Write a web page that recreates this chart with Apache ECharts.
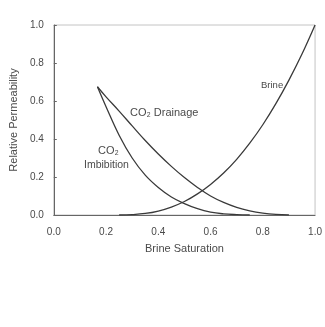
<!DOCTYPE html>
<html><head><meta charset="utf-8">
<script src="https://cdn.jsdelivr.net/npm/echarts@6/dist/echarts.min.js"></script>
<style>html,body{margin:0;padding:0;background:#fff}#c{width:325px;height:327px}</style>
</head><body><div id="c"></div>
<script>
const brineS  = [0.25,0.30,0.35,0.40,0.45,0.50,0.55,0.60,0.65,0.70,0.75,0.80,0.85,0.90,0.95,1.00];
const brineKr = [0.0,0.002,0.008,0.021,0.042,0.071,0.111,0.161,0.221,0.293,0.378,0.475,0.586,0.71,0.847,1.0];
const drainS  = [0.167,0.20,0.25,0.30,0.35,0.40,0.45,0.50,0.55,0.60,0.65,0.70,0.75,0.80,0.85,0.90];
const drainKr = [0.675,0.622,0.547,0.469,0.392,0.321,0.256,0.197,0.145,0.10,0.066,0.04,0.022,0.01,0.003,0.0];
const imbS    = [0.167,0.20,0.25,0.30,0.35,0.40,0.45,0.50,0.55,0.60,0.65,0.70,0.75];
const imbKr   = [0.675,0.57,0.42,0.30,0.21,0.145,0.095,0.06,0.033,0.015,0.006,0.002,0.0];
const ticks = [0.0,0.2,0.4,0.6,0.8,1.0];

const zip = (a,b) => a.map((v,i)=>[v,b[i]]);
const chart = echarts.init(document.getElementById('c'));
const txt = '#4a4a4a';
const font = 'Liberation Sans';
const line = {color:'#3a3a3a', width:1.3};
chart.setOption({
  animation:false,
  grid:{left:53, right:8, top:25, bottom:112, show:true, borderColor:'#c4c4c4', borderWidth:1},
  xAxis:{type:'value', min:0, max:1, interval:0.2,
    name:'Brine Saturation', nameLocation:'middle', nameGap:28,
    nameTextStyle:{color:txt, fontSize:11, fontFamily:font},
    axisLine:{lineStyle:{color:'#666'}}, axisTick:{show:false},
    splitLine:{show:false},
    axisLabel:{color:txt, fontSize:10, fontFamily:font, margin:12, formatter:v=>v.toFixed(1)}},
  yAxis:{type:'value', min:0, max:1, interval:0.2,
    name:'Relative Permeability', nameLocation:'middle', nameGap:27,
    nameTextStyle:{color:txt, fontSize:11, fontFamily:font},
    axisLine:{show:true, lineStyle:{color:'#666'}}, axisTick:{show:true, inside:true, length:3, lineStyle:{color:'#666'}},
    splitLine:{show:false},
    axisLabel:{color:txt, fontSize:10, fontFamily:font, margin:10, formatter:v=>v.toFixed(1)}},
  series:[
    {type:'line', data:zip(brineS,brineKr), smooth:0.4, symbol:'none', lineStyle:line},
    {type:'line', data:zip(drainS,drainKr), smooth:0.4, symbol:'none', lineStyle:line},
    {type:'line', data:zip(imbS,imbKr), smooth:0.4, symbol:'none', lineStyle:line}
  ],
  graphic:[
    {type:'text', left:261, top:80, style:{text:'Brine', fill:txt, font:'9.5px '+font}},
    {type:'text', left:130, top:107, style:{text:'CO₂ Drainage', fill:txt, font:'11px '+font}},
    {type:'text', left:98, top:145, style:{text:'CO₂', fill:txt, font:'11px '+font}},
    {type:'text', left:84, top:160, style:{text:'Imbibition', fill:txt, font:'10.5px '+font}}
  ]
});
</script></body></html>
